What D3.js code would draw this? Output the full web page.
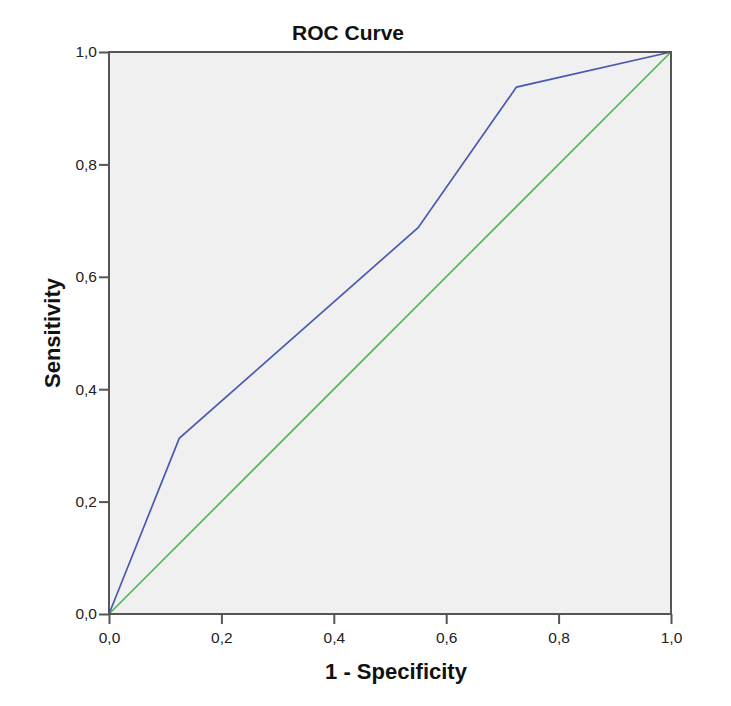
<!DOCTYPE html>
<html><head><meta charset="utf-8">
<script src="https://cdn.jsdelivr.net/npm/d3@7"></script>
<style>body{margin:0;background:#fff;} text{font-family:"Liberation Sans",Arial,sans-serif;}</style>
</head><body>
<svg id="c" width="731" height="706"></svg>
<script>
const rocX = [0, 0.125, 0.55, 0.725, 1.0];
const rocY = [0, 0.3125, 0.6875, 0.9375, 1.0];
const refX = [0, 1];
const refY = [0, 1];
const tickVals = [0, 0.2, 0.4, 0.6, 0.8, 1.0];
const tickLabels = ["0,0", "0,2", "0,4", "0,6", "0,8", "1,0"];

const svg = d3.select("#c");
const L = 109, T = 52, W = 562, H = 562;
const x = d3.scaleLinear().domain([0, 1]).range([L, L + W]);
const y = d3.scaleLinear().domain([0, 1]).range([T + H, T]);

svg.append("rect").attr("x", L).attr("y", T).attr("width", W).attr("height", H).attr("fill", "#f0f0f0");

const line = d3.line().x(d => x(d[0])).y(d => y(d[1]));
svg.append("path").datum(refX.map((v, i) => [v, refY[i]])).attr("d", line)
  .attr("fill", "none").attr("stroke", "#4dbb57").attr("stroke-width", 1.7);
svg.append("path").datum(rocX.map((v, i) => [v, rocY[i]])).attr("d", line)
  .attr("fill", "none").attr("stroke", "#4a5aae").attr("stroke-width", 1.7);

svg.append("rect").attr("x", L).attr("y", T).attr("width", W).attr("height", H)
  .attr("fill", "none").attr("stroke", "#555").attr("stroke-width", 2);

const fmt = d => tickLabels[tickVals.indexOf(d)];
const xa = svg.append("g").attr("transform", `translate(0,${T + H})`)
  .call(d3.axisBottom(x).tickValues(tickVals).tickFormat(fmt).tickSize(10).tickPadding(8));
const ya = svg.append("g").attr("transform", `translate(${L},0)`)
  .call(d3.axisLeft(y).tickValues(tickVals).tickFormat(fmt).tickSize(10).tickPadding(2));
[xa, ya].forEach(a => {
  a.select(".domain").remove();
  a.selectAll(".tick line").attr("stroke", "#555").attr("stroke-width", 2);
  a.selectAll(".tick text").attr("fill", "#222").style("font-size", "15.5px").style("font-family", "'Liberation Sans',Arial,sans-serif");
});

svg.append("text").attr("x", 348).attr("y", 40).attr("text-anchor", "middle")
  .style("font-size", "21px").style("font-weight", "bold").attr("fill", "#111").text("ROC Curve");
svg.append("text").attr("x", 396).attr("y", 679).attr("text-anchor", "middle")
  .style("font-size", "22px").style("font-weight", "bold").attr("fill", "#111").text("1 - Specificity");
svg.append("text").attr("transform", `translate(60,333) rotate(-90)`).attr("text-anchor", "middle")
  .style("font-size", "22px").style("font-weight", "bold").attr("fill", "#111").text("Sensitivity");
</script>
</body></html>
